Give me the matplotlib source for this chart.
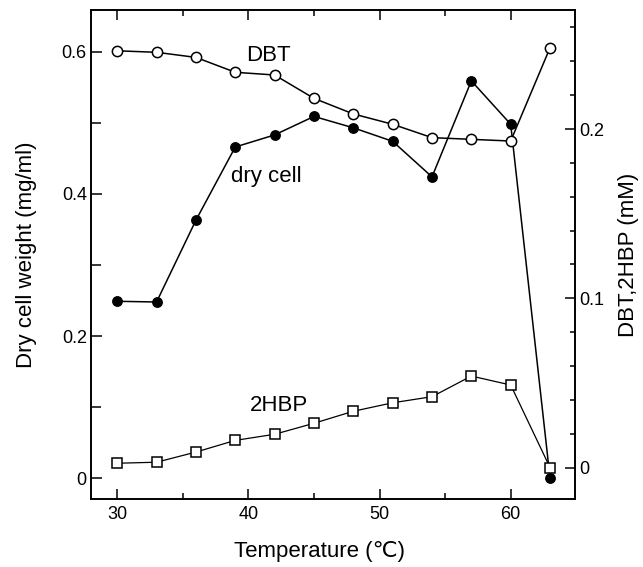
import matplotlib.pyplot as plt
from matplotlib.ticker import MultipleLocator

plt.rcParams['font.family'] = ['Liberation Sans', 'DejaVu Sans']

temperature = [30, 33, 36, 39, 42, 45, 48, 51, 54, 57, 60, 63]
dry_cell = [0.249, 0.248, 0.363, 0.466, 0.483, 0.509, 0.493, 0.474, 0.424, 0.559, 0.498, 0.0]
dbt = [0.2462, 0.2453, 0.2423, 0.2335, 0.2319, 0.2181, 0.2089, 0.2028, 0.1949, 0.1939, 0.1929, 0.2480]
hbp = [0.0026, 0.0032, 0.0092, 0.0161, 0.0197, 0.0262, 0.0333, 0.0383, 0.0419, 0.0541, 0.0488, 0.0]

fig = plt.figure(figsize=(6.43, 5.67), dpi=100)
ax = fig.add_axes([0.1415, 0.1194, 0.7527, 0.8621])
ax2 = ax.twinx()

# dry cell weight on the left axis
ax.plot(temperature, dry_cell, color='black', lw=1.1, marker='o', ms=6.8,
        mfc='black', mec='black')

# DBT / 2HBP on the right axis (drawn on top)
ax2.plot(temperature, dbt, color='black', lw=1.1, marker='o', ms=7.4,
         mfc='white', mec='black', mew=1.1)
ax2.plot(temperature, hbp, color='black', lw=0.9, marker='s', ms=7.2,
         mfc='white', mec='black', mew=1.1)

ax.set_xlim(28, 64.9)
ax.set_ylim(-0.0295, 0.658)
ax2.set_ylim(-0.0187, 0.270)

ax.xaxis.set_major_locator(MultipleLocator(10))
ax.xaxis.set_minor_locator(MultipleLocator(5))
ax.yaxis.set_minor_locator(MultipleLocator(0.1))
ax2.yaxis.set_minor_locator(MultipleLocator(0.02))

ax.set_yticks([0, 0.2, 0.4, 0.6])
ax.set_yticklabels(['0', '0.2', '0.4', '0.6'])
ax2.set_yticks([0, 0.1, 0.2])
ax2.set_yticklabels(['0', '0.1', '0.2'])

ax.tick_params(axis='x', which='both', direction='in', top=True, labelsize=13, pad=5)
ax.tick_params(axis='x', which='major', length=7, width=1.1)
ax.tick_params(axis='x', which='minor', length=4, width=1.1)
ax.tick_params(axis='y', which='both', direction='in', right=False, labelsize=13, pad=3)
ax.tick_params(axis='y', which='major', length=8, width=1.1)
ax.tick_params(axis='y', which='minor', length=7.5, width=1.1)
ax2.tick_params(axis='y', which='both', direction='in', labelsize=13, pad=3)
ax2.tick_params(axis='y', which='major', length=7, width=1.1)
ax2.tick_params(axis='y', which='minor', length=3.7, width=1.1)

for a in (ax, ax2):
    for s in a.spines.values():
        s.set_linewidth(1.2)

ax.set_xlabel('Temperature (℃)', fontsize=16)
ax.xaxis.set_label_coords(0.473, -0.085)
ax.set_ylabel('Dry cell weight (mg/ml)', fontsize=16)
ax.yaxis.set_label_coords(-0.112, 0.5)
ax2.set_ylabel('DBT,2HBP (mM)', fontsize=16)
ax2.yaxis.set_label_coords(1.088, 0.5)

ax.text(41.5, 0.595, 'DBT', fontsize=16, ha='center', va='center')
ax.text(41.4, 0.424, 'dry cell', fontsize=16, ha='center', va='center')
ax.text(42.3, 0.103, '2HBP', fontsize=16, ha='center', va='center')

fig.savefig('out.png', dpi=100)
